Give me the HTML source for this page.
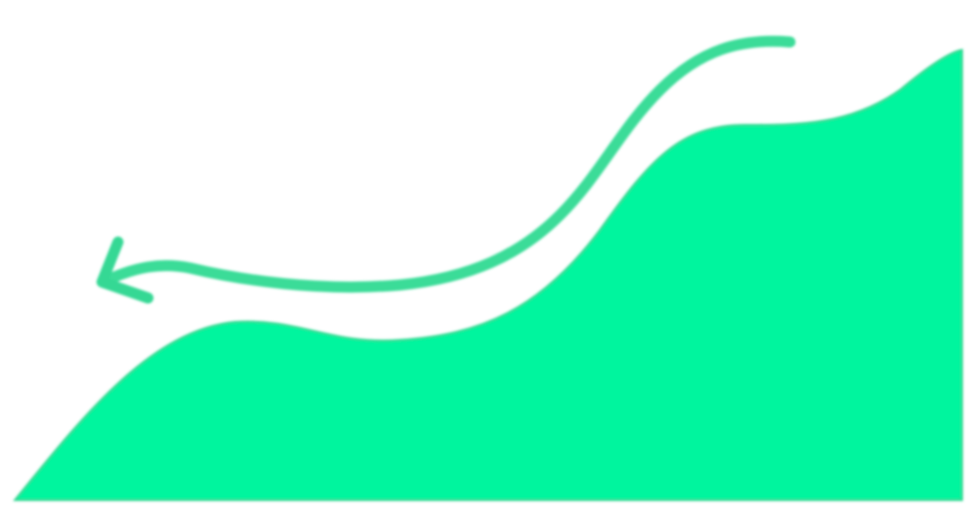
<!DOCTYPE html>
<html><head><meta charset="utf-8"><style>
html,body{margin:0;padding:0;background:#fff;width:968px;height:508px;overflow:hidden}
</style></head><body>
<svg id="art" width="968" height="508" viewBox="0 0 968 508">
<defs><filter id="soft"><feGaussianBlur stdDeviation="1.2"/></filter></defs>
<path id="area" fill="#05F59E" stroke="#2fd68f" stroke-width="2" filter="url(#soft)"/>
<g filter="url(#soft)">
<path fill="none" stroke="#3bdc98" stroke-width="11" stroke-linecap="round"
 d="M790,42 C740,38 700,50 660,90 C620,130 600,175 560,215 C520,255 470,278 400,285 C320,292 240,280 190,268 C160,262 135,268 112,278"/>
<path fill="none" stroke="#35d894" stroke-width="11" stroke-linecap="round" stroke-linejoin="round"
 d="M118,242 L102,282 L148,298"/>
</g>
</svg>
<script>
// area outline control points (x, y) for cubic segments
const startPoint = [15, 500];
const curveSegments = [
  [[80,420],[150,330],[235,322]],
  [[300,318],[330,345],[400,340]],
  [[480,335],[540,310],[600,230]],
  [[650,160],[680,125],[745,125]],
  [[800,125],[850,125],[900,90]],
  [[930,65],[950,52],[962,50]]
];
const baseY = 500;
let d = 'M' + startPoint.join(',');
for (const seg of curveSegments) d += ' C' + seg.map(p => p.join(',')).join(' ');
const last = curveSegments[curveSegments.length - 1][2];
d += ' L' + last[0] + ',' + baseY + ' Z';
document.getElementById('area').setAttribute('d', d);
</script>
</body></html>
